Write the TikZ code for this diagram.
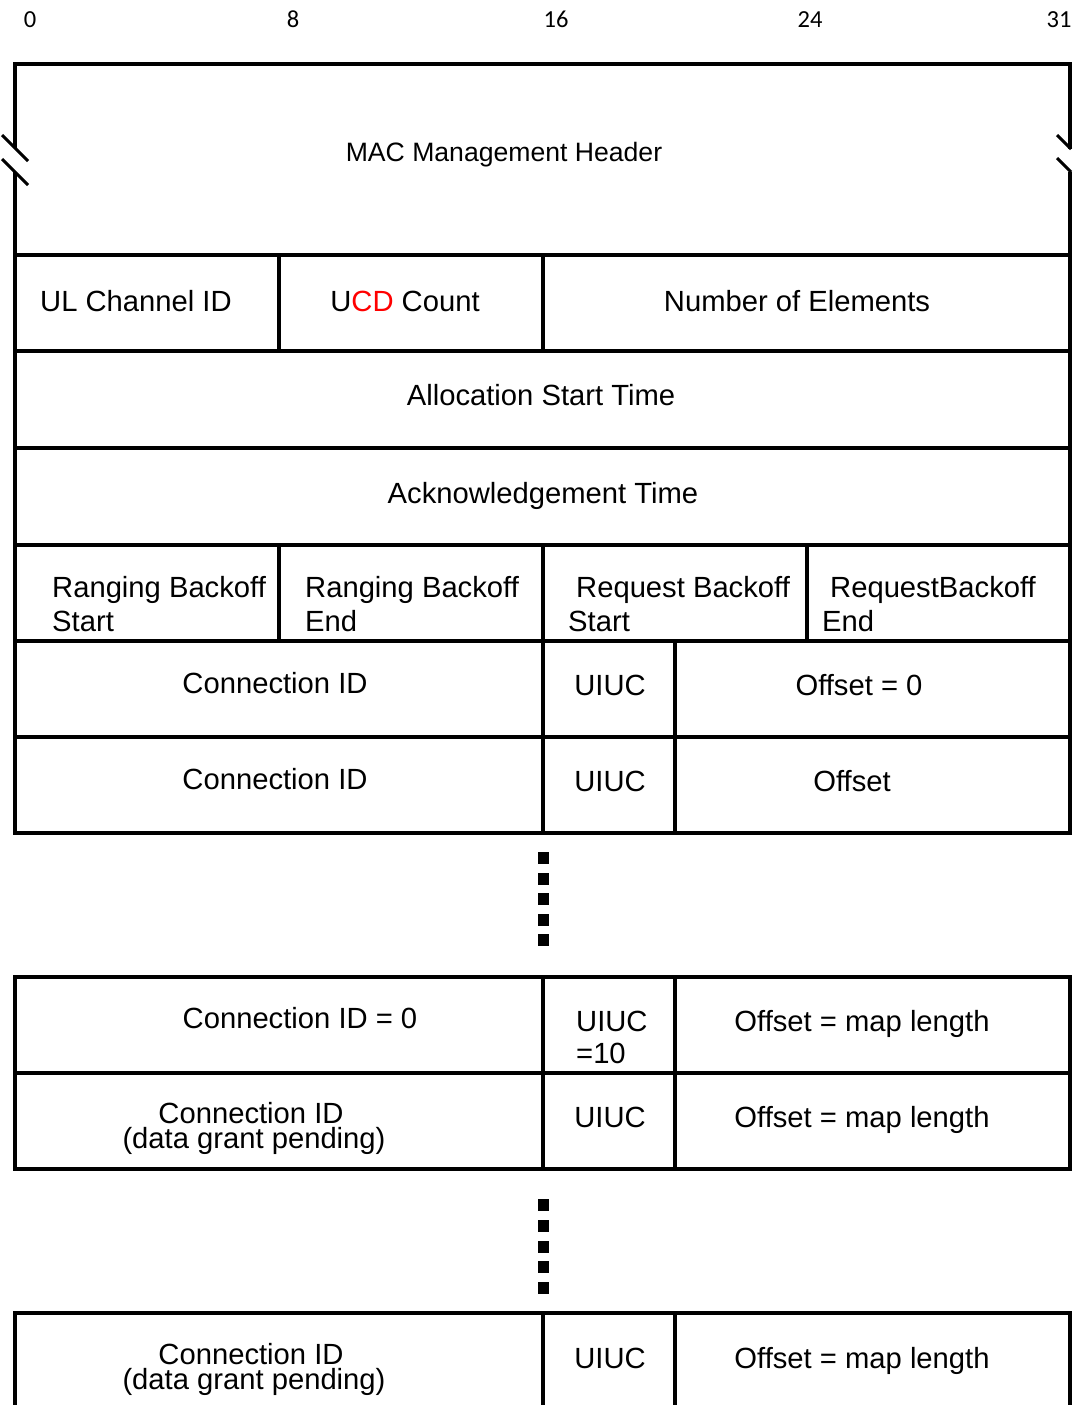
\documentclass[tikz,border=0pt]{standalone}
\usepackage{fontspec}
\setmainfont{Liberation Sans}
\newfontfamily\numfont{Carlito}
\begin{document}
\begin{tikzpicture}[x=1pt,y=-1pt,
  frame/.style={line width=4pt,line join=miter},
  rule/.style={line width=3.6pt},
  brk/.style={line width=3pt},
  cell/.style={inner sep=0pt,anchor=base,font=\fontsize{29.2}{34}\selectfont},
  lcell/.style={cell,anchor=base west},
  hcell/.style={cell,font=\fontsize{26.6}{30}\selectfont},
  bit/.style={inner sep=0pt,anchor=base,font=\numfont\fontsize{24.5}{28}\selectfont},
  sq/.style={fill=black}]
\useasboundingbox (0,0) rectangle (1073,1405);
\clip (0,0) rectangle (1073,1405);

% bit positions
\node[bit] (b0)  at (30,28)   {0};
\node[bit] (b8)  at (293,28)  {8};
\node[bit] (b16) at (556,28)  {16};
\node[bit] (b24) at (810,28)  {24};
\node[bit] (b31) at (1059,28) {31};

% ---- first block: outer frame with the broken header sides
\draw[frame] (15,148) -- (15,64) -- (1070,64) -- (1070,149);
\draw[frame] (15,172) -- (15,833) -- (1070,833) -- (1070,172);
\draw[brk] (2,135) -- (28,161);
\draw[brk] (2,159) -- (28,185);
\draw[brk] (1057,135) -- (1071,149);
\draw[brk] (1057,158) -- (1071,172);

% row rules
\foreach \yy in {255,351,448,545,641,737}
  \draw[rule] (15,\yy) -- (1070,\yy);
% column rules
\draw[rule] (279,255) -- (279,351);
\draw[rule] (543,255) -- (543,351);
\draw[rule] (279,545) -- (279,641);
\draw[rule] (543,545) -- (543,641);
\draw[rule] (807,545) -- (807,641);
\draw[rule] (543,641) -- (543,833);
\draw[rule] (675,641) -- (675,833);

\node[hcell] (hdr) at (504,161) {MAC Management Header};
\node[lcell] (ulch) at (40,311) {UL Channel ID};
\node[cell] (ucd) at (405,311) {U\textcolor{red}{CD} Count};
\node[cell] (nelem) at (797,311) {Number of Elements};
\node[cell] (alloc) at (541,405) {Allocation Start Time};
\node[cell] (ack) at (543,503) {Acknowledgement Time};

\node[lcell] (rbs1) at (52,597) {Ranging Backoff};
\node[lcell] (rbs2) at (52,631) {Start};
\node[lcell] (rbe1) at (305,597) {Ranging Backoff};
\node[lcell] (rbe2) at (305,631) {End};
\node[lcell] (qbs1) at (576,597) {Request Backoff};
\node[lcell] (qbs2) at (568,631) {Start};
\node[lcell] (qbe1) at (830,597) {RequestBackoff};
\node[lcell] (qbe2) at (822,631) {End};

\node[cell] (cid1) at (275,693) {Connection ID};
\node[cell] (uiuc1) at (610,695) {UIUC};
\node[cell] (off1) at (859,695) {Offset = 0};
\node[cell] (cid2) at (275,789) {Connection ID};
\node[cell] (uiuc2) at (610,791) {UIUC};
\node[cell] (off2) at (852,791) {Offset};

% continuation marks
\foreach \yy in {852,872.5,893,913.5,934}
  \fill[sq] (538,\yy) rectangle ++(11,12);

% ---- second block
\draw[frame] (15,977) rectangle (1070,1169);
\draw[rule] (15,1073) -- (1070,1073);
\draw[rule] (543,977) -- (543,1169);
\draw[rule] (675,977) -- (675,1169);

\node[cell] (cid3) at (300,1028) {Connection ID = 0};
\node[lcell] (uiuc3a) at (576,1031) {UIUC};
\node[lcell] (uiuc3b) at (576,1063) {=10};
\node[cell] (off3) at (862,1031) {Offset = map length};
\node[cell] (cid4a) at (251,1123) {Connection ID};
\node[cell] (cid4b) at (254,1148) {(data grant pending)};
\node[cell] (uiuc4) at (610,1127) {UIUC};
\node[cell] (off4) at (862,1127) {Offset = map length};

% continuation marks
\foreach \yy in {1199,1220,1241,1261,1282}
  \fill[sq] (538,\yy) rectangle ++(11,12);

% ---- last block (runs past the lower edge)
\draw[frame] (15,1420) -- (15,1313) -- (1070,1313) -- (1070,1420);
\draw[rule] (543,1313) -- (543,1420);
\draw[rule] (675,1313) -- (675,1420);

\node[cell] (cid5a) at (251,1364) {Connection ID};
\node[cell] (cid5b) at (254,1389) {(data grant pending)};
\node[cell] (uiuc5) at (610,1368) {UIUC};
\node[cell] (off5) at (862,1368) {Offset = map length};
\end{tikzpicture}
\end{document}
